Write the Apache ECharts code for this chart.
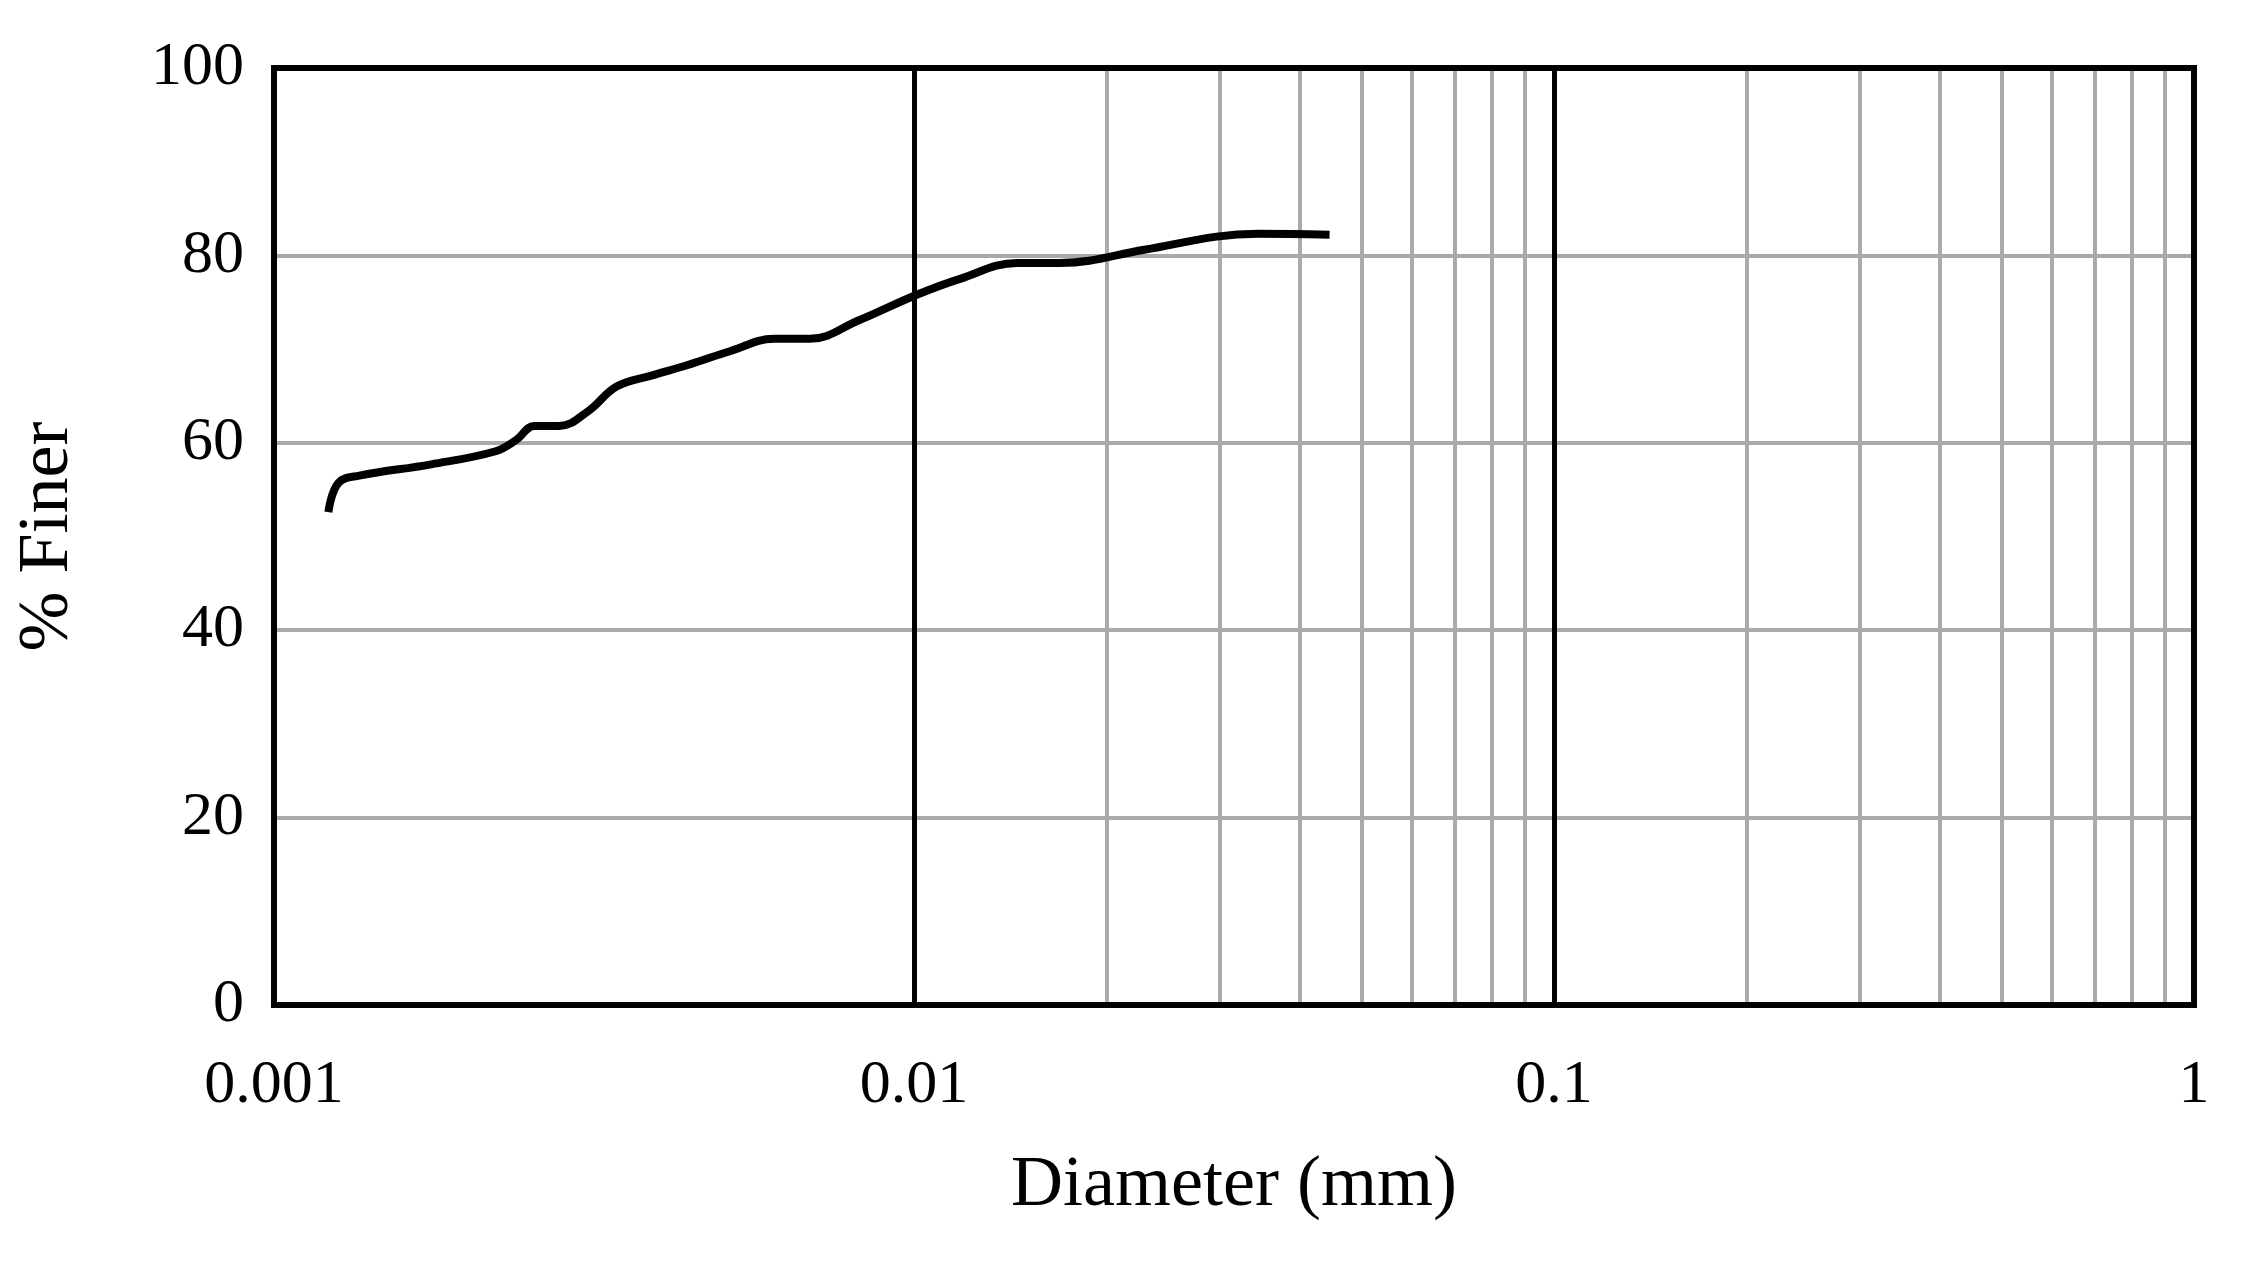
<!DOCTYPE html>
<html><head><meta charset="utf-8">
<script src="https://cdn.jsdelivr.net/npm/echarts@6/dist/echarts.min.js"></script>
<style>html,body{margin:0;background:#fff}#c{width:2242px;height:1279px}</style>
</head><body><div id="c"></div>
<script>
const diameters=[0.001216,0.00126,0.00136,0.00176,0.00222,0.00239,0.00255,0.00279,0.0031,0.00343,0.0039,0.00443,0.00517,0.00604,0.00687,0.00822,0.0101,0.0118,0.0145,0.0169,0.0229,0.0297,0.0345,0.0446];
const finer=[52.6,55.7,56.5,57.7,59.1,60.3,61.8,61.8,63.4,66,67.2,68.3,69.8,71.1,71.1,73.1,75.8,77.5,79.2,79.2,80.6,82,82.3,82.2];
const minorLines=[];
[0.001,0.01,0.1].forEach(d=>{for(let k=2;k<=9;k++)minorLines.push(+(d*k).toPrecision(3));});
const majorLines=[0.01,0.1];
const font='"Liberation Serif","DejaVu Serif",serif';
const chart=echarts.init(document.getElementById('c'));
chart.setOption({
 animation:false,
 grid:{left:274,right:48,top:68,bottom:274,show:true,borderColor:'#000',borderWidth:6,z:10},
 xAxis:{type:'log',logBase:10,min:0.001,max:1,name:'Diameter (mm)',nameLocation:'middle',nameGap:145,
  nameTextStyle:{fontFamily:font,fontSize:72,color:'#000'},
  axisLine:{show:false},axisTick:{show:false},splitLine:{show:false},
  axisLabel:{fontFamily:font,fontSize:62,color:'#000',margin:50,formatter:v=>String(+v.toPrecision(3))}},
 yAxis:{type:'value',min:0,max:100,interval:20,name:'% Finer',nameLocation:'middle',nameGap:190,
  nameTextStyle:{fontFamily:font,fontSize:72,color:'#000'},
  axisLine:{show:false},axisTick:{show:false},
  splitLine:{lineStyle:{color:'#aaaaaa',width:4}},
  axisLabel:{fontFamily:font,fontSize:62,color:'#000',margin:30}},
 series:[
  {type:'line',data:diameters.map((d,i)=>[d,finer[i]]),smooth:0.4,showSymbol:false,
   lineStyle:{color:'#000',width:8},z:5,
   markLine:{symbol:'none',silent:true,label:{show:false},animation:false,z:1,
    data:minorLines.map(v=>({xAxis:v,lineStyle:{color:'#aaaaaa',width:4,type:'solid'}}))
     .concat(majorLines.map(v=>({xAxis:v,lineStyle:{color:'#000',width:5,type:'solid'}})))}}
 ]
});
</script></body></html>
